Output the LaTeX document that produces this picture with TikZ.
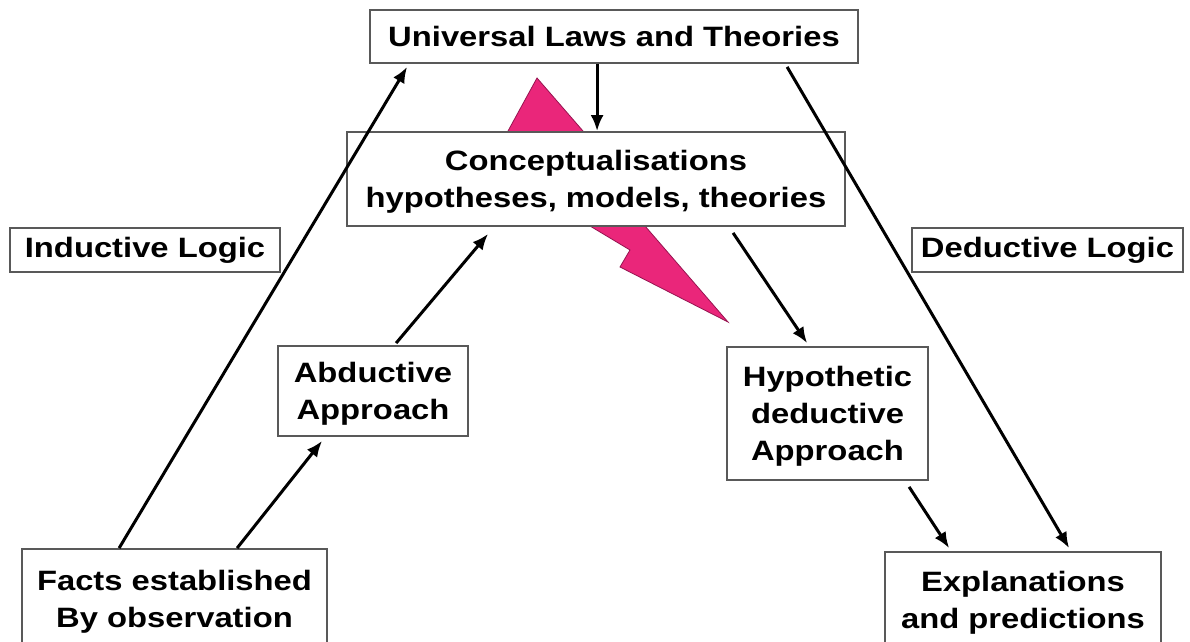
\documentclass[tikz,border=0pt]{standalone}
\usepackage{fontspec}
\setmainfont{Liberation Sans}[FakeStretch=1.17]
\usetikzlibrary{shapes, arrows.meta, positioning}

\definecolor{boltpink}{RGB}{234,38,122}
\definecolor{boltedge}{RGB}{150,20,80}

\begin{document}
\begin{tikzpicture}[
  x=0.5pt, y=-0.5pt, % one unit is one pixel of the original picture
  box/.style={draw=black!65, line width=0.9pt, fill=white, align=center,
    font=\fontsize{14}{18.5}\selectfont\bfseries, inner sep=0pt},
  bigbox/.style={box, text depth=0pt}, % boxes with more than one line
  arr/.style={-{Latex[length=8pt,width=6.5pt]}, line width=1.5pt},
  thick]

  \useasboundingbox (0,0) rectangle (1190,642);

  % the lightning bolt goes behind the boxes
  \draw[boltedge, line width=0.4pt, fill=boltpink]
    (537,78) -- (583,131) -- (645,226) -- (728,322) -- (620,267)
    -- (630,250) -- (590,226) -- (508,131) -- cycle;

  \node[box, minimum width=244pt, minimum height=26.5pt] (univ) at (614,36.5) {Universal Laws and Theories};
  \node[bigbox, minimum width=249pt, minimum height=47pt] (concept) at (596,179)
    {Conceptualisations\\hypotheses, models, theories};
  \node[box, minimum width=135pt, minimum height=22pt] (induct) at (145,250) {Inductive Logic};
  \node[box, minimum width=135.5pt, minimum height=22pt] (deduct) at (1047.5,250) {Deductive Logic};
  \node[bigbox, minimum width=95pt, minimum height=45pt] (abduct) at (373,391) {Abductive\\Approach};
  \node[bigbox, minimum width=100.5pt, minimum height=66.5pt] (hypo) at (827.5,413.5)
    {Hypothetic\\deductive\\Approach};
  \node[bigbox, minimum width=152.5pt, minimum height=49.5pt] (facts) at (174.5,598.5)
    {Facts established\\By observation};
  \node[bigbox, minimum width=138pt, minimum height=48pt] (expl) at (1023,600)
    {Explanations\\and predictions};

  \draw[arr] ([xshift=49pt]facts.north west) -- ([xshift=19pt,yshift=-1.5pt]univ.south west);
  \draw[arr] ([xshift=108pt]facts.north west) -- ([xshift=22.5pt,yshift=-2pt]abduct.south west);
  \draw[arr] ([xshift=59.5pt,yshift=1pt]abduct.north west) -- ([xshift=71pt,yshift=-3.5pt]concept.south west);
  \draw[arr] ([xshift=114pt]univ.south west) -- ([xshift=125.5pt]concept.north west);
  \draw[arr] ([xshift=193.5pt,yshift=-3pt]concept.south west) -- ([xshift=40.5pt,yshift=1.5pt]hypo.north west);
  \draw[arr] ([xshift=209pt,yshift=-1.5pt]univ.south west) -- ([xshift=92.5pt,yshift=1.5pt]expl.north west);
  \draw[arr] ([xshift=91.5pt,yshift=-3pt]hypo.south west) -- ([xshift=32.5pt,yshift=1.5pt]expl.north west);
\end{tikzpicture}
\end{document}
